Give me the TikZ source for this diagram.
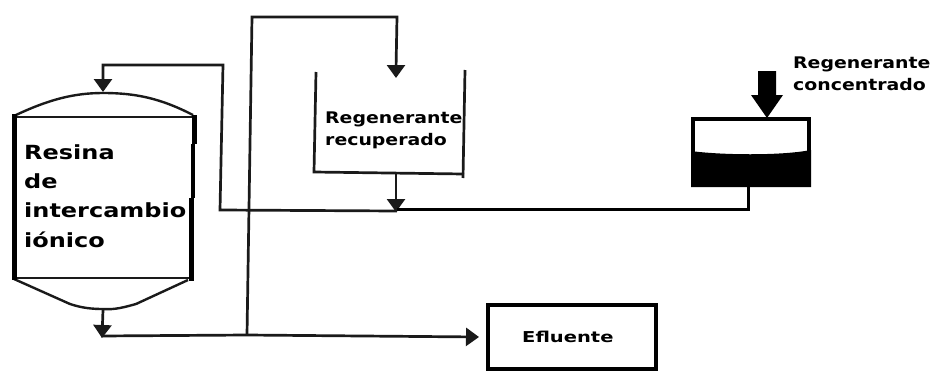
\documentclass[tikz,border=0pt]{standalone}
\usepackage{fontspec}
\setmainfont{DejaVu Sans}
\newfontfamily\bigf[FakeStretch=1.23]{DejaVu Sans Bold}
\newfontfamily\smallf[FakeStretch=1.18]{DejaVu Sans Bold}
\newfontfamily\eflf[FakeStretch=1.3]{DejaVu Sans Bold}
\usetikzlibrary{arrows.meta}
\definecolor{inkc}{HTML}{1A1A1A}
\tikzset{
  pipe/.style={draw=inkc,line width=2.7pt,line join=miter},
  pipearrow/.style={pipe,-{Triangle[width=18pt,length=13pt]}},
  vesselline/.style={draw=inkc,line width=2.4pt},
  lab/.style={anchor=west,inner sep=0pt,align=left},
  smalllab/.style={lab,font=\fontsize{16}{22}\smallf},
  biglab/.style={lab,font=\fontsize{19.5}{29.3}\bigf},
  efllab/.style={lab,font=\fontsize{15}{18}\eflf}
}
\begin{document}
\begin{tikzpicture}[x=1pt,y=-1pt]
\useasboundingbox (0,0) rectangle (932,370);
% resin vessel
\coordinate (vtop) at (103,93);
\coordinate (vbot) at (103,309);
\draw[vesselline] (14,117) -- (193,117);
\draw[vesselline] (14,278) -- (191,278);
\draw[vesselline] (16,115) .. controls (50,99) and (75,93) .. (vtop) .. controls (135,93) and (160,98) .. (193,115);
\draw[vesselline] (14,279) -- (70,304) .. controls (82,308) and (92,309) .. (vbot) .. controls (115,310) and (125,307) .. (136,304) -- (188,280);
\draw[line width=5pt,draw=black] (14,114) -- (14,280);
\draw[line width=5pt,draw=black] (194,115) -- (194,144);
\draw[line width=4pt,draw=black] (193,144) -- (193,198);
\draw[line width=5pt,draw=black] (191,198) -- (191,281);
\node[biglab] (resina) at (24,196) {Resina\\de\\intercambio\\iónico};
% recovered regenerant tank
\coordinate (rtl) at (316,72);
\coordinate (rbl) at (314,172);
\coordinate (rbr) at (464,174);
\coordinate (rtr) at (465,70);
\coordinate (rbe) at (463,178);
\draw[pipe] (rtl) -- (rbl) -- (rbr);
\draw[pipe] (rtr) -- (rbe);
\node[smalllab] (recup) at (325,130) {Regenerante\\recuperado};
% concentrate tank
\node[draw=black,line width=4pt,minimum width=116pt,minimum height=66pt,inner sep=0pt] (conc) at (751,152) {};
\fill[black] (691,151) .. controls (720,155) and (780,156) .. (811,150) -- (811,187) -- (691,187) -- cycle;
\node[smalllab] (conclab) at (793,74) {Regenerante\\concentrado};
\fill[black] (758,71) -- (776,71) -- (776,95) -- (783,95) -- (767,118) -- (751,95) -- (758,95) -- cycle;
% effluent box
\node[draw=black,line width=4pt,minimum width=168pt,minimum height=64pt,inner sep=0pt] (efl) at (572,337) {};
\node[efllab] (efltext) at (522,337) {Efluente};
% junctions
\coordinate (j1) at (103,65);
\coordinate (j2) at (223,65);
\coordinate (j3) at (220,210);
\coordinate (j4) at (397,211);
\coordinate (j5) at (247,335);
\coordinate (j6) at (252,17);
\coordinate (j7) at (397,17);
\coordinate (j8) at (396,78);
\coordinate (j9) at (101,336);
\coordinate (j10) at (479,337);
\coordinate (j11) at (396,173);
\coordinate (j12) at (748,209);
\coordinate (j13) at (103,310);
\coordinate (j14) at (748,187);
% connectors
\draw[pipe] (j4) -- (j3) -- (j2) -- (j1) -- (103,80);
\draw[pipearrow] (103,75) -- (103,92);
\draw[pipe] (j5) -- (j6) -- (j7) -- (396,70);
\draw[pipearrow] (396,60) -- (j8);
\draw[pipearrow] (j11) -- (396,212);
\draw[pipearrow] (j13) -- (102,338);
\draw[pipearrow] (j9) -- (j5) -- (j10);
\draw[line width=3pt,draw=black] (j14) -- (j12) -- (397,209);
\end{tikzpicture}
\end{document}
